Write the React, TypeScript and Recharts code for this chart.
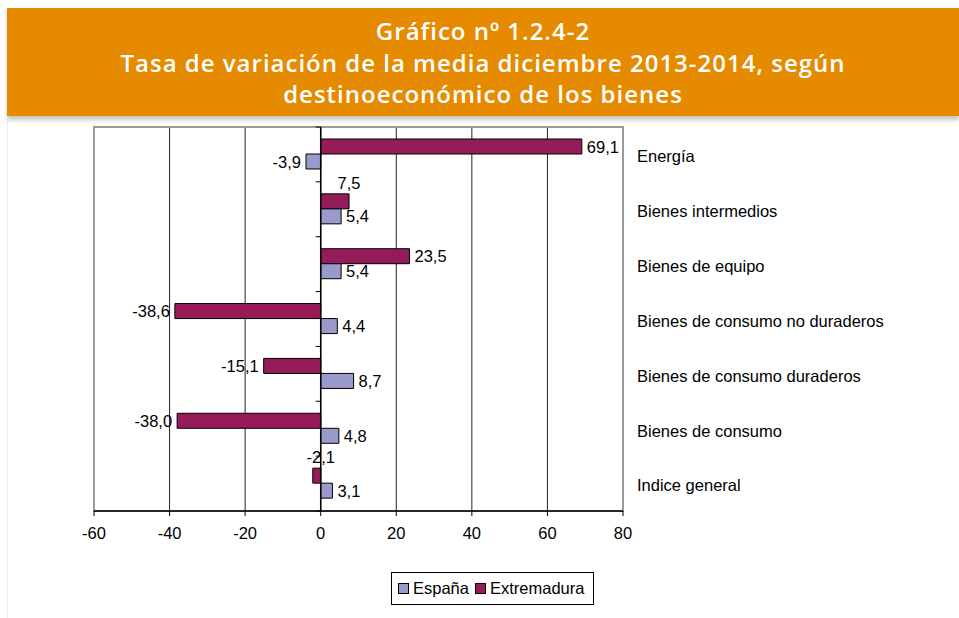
import { BarChart, Bar, XAxis, YAxis, CartesianGrid, ReferenceLine, ReferenceArea, LabelList } from "recharts";

const categories = [
  "Energía",
  "Bienes intermedios",
  "Bienes de equipo",
  "Bienes de consumo no duraderos",
  "Bienes de consumo duraderos",
  "Bienes de consumo",
  "Indice general",
];
const espana = [-3.9, 5.4, 5.4, 4.4, 8.7, 4.8, 3.1];
const extremadura = [69.1, 7.5, 23.5, -38.6, -15.1, -38.0, -2.1];
const xTicks = [-60, -40, -20, 0, 20, 40, 60, 80];

// Extremadura labels that sit above their bar in the original
const labelsAbove = ["Bienes intermedios", "Indice general"];

const FONT = "'Liberation Sans', Arial, sans-serif";
const ESP = "#9999CC";
const EXT = "#951C58";

const data = categories.map((name, i) => ({ name, espana: espana[i], extremadura: extremadura[i] }));

const fmt = (v: number) => v.toFixed(1).replace(".", ",");

function makeLabel(series: "espana" | "extremadura") {
  return (props: any) => {
    const { x, y, width, height, value, index } = props;
    const left = Math.min(x, x + width);
    const right = Math.max(x, x + width);
    const cy = y + height / 2;
    const common = { fontFamily: FONT, fontSize: 16.5, fill: "#000" };
    if (series === "extremadura" && labelsAbove.includes(categories[index])) {
      return (
        <text x={right} y={y - 11} textAnchor="middle" dominantBaseline="central" {...common}>
          {fmt(value)}
        </text>
      );
    }
    if (value >= 0) {
      return (
        <text x={right + 5} y={cy} textAnchor="start" dominantBaseline="central" {...common}>
          {fmt(value)}
        </text>
      );
    }
    return (
      <text x={left - 5} y={cy} textAnchor="end" dominantBaseline="central" {...common}>
        {fmt(value)}
      </text>
    );
  };
}

function ZeroAxis(props: any) {
  const { x1, y1, y2 } = props;
  const n = categories.length;
  const ticks = [];
  for (let i = 0; i <= n; i++) {
    const ty = y1 + ((y2 - y1) * i) / n;
    ticks.push(<line key={i} x1={x1 - 5} x2={x1} y1={ty} y2={ty} stroke="#000" />);
  }
  return (
    <g>
      <line x1={x1} x2={x1} y1={y1} y2={y2} stroke="#000" strokeWidth={1.5} />
      {ticks}
    </g>
  );
}

function LegendBox() {
  const item = (color: string, label: string) => (
    <span style={{ display: "inline-flex", alignItems: "center", marginRight: 6 }}>
      <span style={{ width: 9, height: 9, background: color, border: "1px solid #000", marginRight: 4, display: "inline-block" }} />
      {label}
    </span>
  );
  return (
    <div
      style={{
        position: "absolute",
        left: 391,
        top: 572,
        border: "1px solid #000",
        width: 203,
        height: 33,
        boxSizing: "border-box",
        display: "flex",
        alignItems: "center",
        paddingLeft: 6,
        fontFamily: FONT,
        fontSize: 16.5,
        color: "#000",
        background: "#fff",
      }}
    >
      {item(ESP, "España")}
      {item(EXT, "Extremadura")}
    </div>
  );
}

export default function App() {
  return (
    <div style={{ position: "absolute", left: 0, top: 0, width: 959, height: 618, background: "#fff", overflow: "hidden" }}>
      <div style={{ position: "absolute", left: 0, top: 120, width: 7, height: 498, borderRight: "1px solid #eee" }} />
      <BarChart
        width={959}
        height={618}
        data={data}
        layout="vertical"
        margin={{ top: 127, right: 0, bottom: 77, left: 94 }}
        barSize={15}
        barGap={0}
      >
        <CartesianGrid horizontal={false} stroke="#222" />
        <ReferenceArea x1={-60} x2={80} fill="none" stroke="#9a9a9a" strokeWidth={2} ifOverflow="visible" />
        <XAxis
          type="number"
          domain={[-60, 80]}
          ticks={xTicks}
          interval={0}
          height={30}
          axisLine={{ stroke: "#000", strokeWidth: 1.5 }}
          tickLine={{ stroke: "#000" }}
          tickSize={5}
          tickMargin={11}
          tick={{ fontFamily: FONT, fontSize: 16.5, fill: "#000" }}
        />
        <YAxis
          type="category"
          dataKey="name"
          orientation="right"
          width={336}
          axisLine={false}
          tickLine={false}
          tickSize={0}
          tickMargin={14}
          interval={0}
          tick={{ fontFamily: FONT, fontSize: 16.5, fill: "#000", textAnchor: "start", dy: 2 }}
        />
        <ReferenceLine x={0} shape={ZeroAxis} />
        <Bar dataKey="extremadura" name="Extremadura" fill={EXT} stroke="#000" strokeWidth={1} isAnimationActive={false}>
          <LabelList dataKey="extremadura" content={makeLabel("extremadura")} />
        </Bar>
        <Bar dataKey="espana" name="España" fill={ESP} stroke="#000" strokeWidth={1} isAnimationActive={false}>
          <LabelList dataKey="espana" content={makeLabel("espana")} />
        </Bar>
      </BarChart>
      <LegendBox />
      <div
        style={{
          position: "absolute",
          left: 7,
          top: 8,
          width: 952,
          height: 108,
          background: "#E68A00",
          boxShadow: "0 4px 4px rgba(0,0,0,0.22)",
          color: "#fff",
          fontFamily: "'Open Sans', Lato, sans-serif",
          fontWeight: 600,
          fontSize: 24,
          letterSpacing: 1,
          lineHeight: "31.5px",
          textAlign: "center",
          paddingTop: 7,
          boxSizing: "border-box",
        }}
      >
        <div>Gráfico nº 1.2.4-2</div>
        <div>Tasa de variación de la media diciembre 2013-2014, según</div>
        <div>destinoeconómico de los bienes</div>
      </div>
    </div>
  );
}
